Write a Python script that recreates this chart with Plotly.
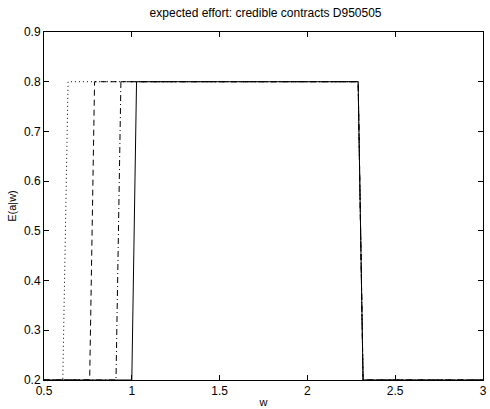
import plotly.graph_objects as go

w_solid = [0.5, 1.0, 1.027, 2.289, 2.317, 3.0]
e_solid = [0.2, 0.2, 0.8, 0.8, 0.2, 0.2]
w_dashdot = [0.5, 0.91, 0.938, 2.289, 2.317, 3.0]
e_dashdot = [0.2, 0.2, 0.8, 0.8, 0.2, 0.2]
w_dash = [0.5, 0.76, 0.788, 2.289, 2.317, 3.0]
e_dash = [0.2, 0.2, 0.8, 0.8, 0.2, 0.2]
w_dot = [0.5, 0.607, 0.637, 2.289, 2.317, 3.0]
e_dot = [0.2, 0.2, 0.8, 0.8, 0.2, 0.2]

x_ticks = [0.5, 1, 1.5, 2, 2.5, 3]
y_ticks = [0.2, 0.3, 0.4, 0.5, 0.6, 0.7, 0.8, 0.9]

fig = go.Figure()
series = [
    (w_dot, e_dot, "1px,3px"),
    (w_dash, e_dash, "6px,4px"),
    (w_dashdot, e_dashdot, "6px,3px,1px,3px"),
    (w_solid, e_solid, "solid"),
]
for xs, ys, d in series:
    fig.add_trace(go.Scatter(x=xs, y=ys, mode="lines",
                             line=dict(color="black", width=1, dash=d),
                             showlegend=False, hoverinfo="skip"))

font_fam = "Liberation Sans, Arial"
axis_common = dict(showgrid=False, zeroline=False, showline=True, linecolor="black",
                   linewidth=1, mirror="ticks", ticks="inside", ticklen=5,
                   tickcolor="black", tickfont=dict(family=font_fam, size=12, color="black"))
fig.update_layout(
    width=490, height=409,
    margin=dict(l=44, r=3, t=32, b=26),
    paper_bgcolor="white", plot_bgcolor="white",
    title=dict(text="expected effort: credible contracts D950505", x=0.542, xanchor="center",
               y=0.968, yanchor="middle",
               font=dict(family=font_fam, size=12, color="black")),
    xaxis=dict(range=[0.5, 3], tickvals=x_ticks, ticktext=[str(t) for t in x_ticks],
               title=dict(text="w", standoff=0, font=dict(family=font_fam, size=11, color="black")),
               **axis_common),
    yaxis=dict(range=[0.2, 0.9], tickvals=y_ticks, ticktext=[f"{t:.1f}" for t in y_ticks],
               title=dict(text="E(a|w)", standoff=5, font=dict(family=font_fam, size=11, color="black")),
               **axis_common),
)
fig.write_html("out.html")
